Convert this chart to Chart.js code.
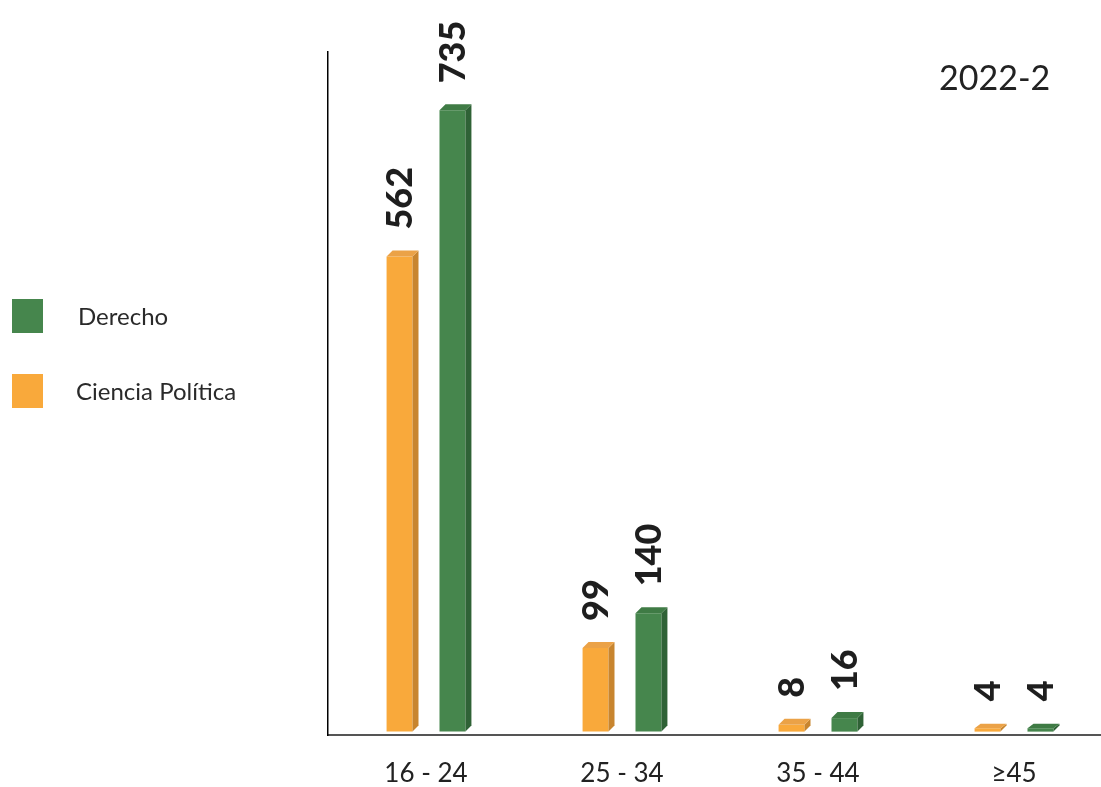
<!DOCTYPE html>
<html>
<head>
<meta charset="utf-8">
<script src="https://cdn.jsdelivr.net/npm/chart.js@4"></script>
<style>
  html, body { margin: 0; padding: 0; background: #fff; overflow: hidden; }
  #wrap { position: relative; width: 1115px; height: 787px; }
  .legend { position: absolute; left: 12px; font-family: Lato, sans-serif; font-size: 24px; color: #2a2a2a; }
  .legend span.box { position: absolute; left: 0; width: 31px; height: 34px; }
  .legend span.txt { position: absolute; white-space: nowrap; }
  #period { position: absolute; left: 939px; top: 56px; font-family: Lato, sans-serif; font-size: 34px; color: #222; }
</style>
</head>
<body>
<div id="wrap">
  <canvas id="myChart" width="1115" height="787"></canvas>
  <div class="legend" style="top:299px"><span class="box" style="background:#46864d"></span><span class="txt" style="left:66px;top:2px">Derecho</span></div>
  <div class="legend" style="top:374px"><span class="box" style="background:#f9a93b"></span><span class="txt" style="left:64px;top:2px">Ciencia Política</span></div>
  <div id="period">2022-2</div>
</div>
<script>
const categories = ["16 - 24", "25 - 34", "35 - 44", "≥45"];
const cienciaPolitica = [562, 99, 8, 4];
const derecho = [735, 140, 16, 4];

const depth = 6;

// side and top faces so the bars look like blocks
const boxFaces = {
  id: "boxFaces",
  afterDatasetsDraw(chart) {
    const ctx = chart.ctx;
    chart.data.datasets.forEach((ds, i) => {
      chart.getDatasetMeta(i).data.forEach((bar) => {
        const r = bar.x + bar.width / 2;
        const l = bar.x - bar.width / 2;
        const top = bar.y;
        const base = bar.base;
        const d = Math.min(depth, base - top + 1);
        ctx.save();
        ctx.fillStyle = ds.sideColor;
        ctx.beginPath();
        ctx.moveTo(r, top);
        ctx.lineTo(r + depth, top - d);
        ctx.lineTo(r + depth, base - depth);
        ctx.lineTo(r, base);
        ctx.closePath();
        ctx.fill();
        ctx.fillStyle = ds.topColor;
        ctx.beginPath();
        ctx.moveTo(l, top);
        ctx.lineTo(l + depth, top - d);
        ctx.lineTo(r + depth, top - d);
        ctx.lineTo(r, top);
        ctx.closePath();
        ctx.fill();
        ctx.restore();
      });
    });
  }
};

const valueLabels = {
  id: "valueLabels",
  afterDatasetsDraw(chart) {
    const ctx = chart.ctx;
    chart.data.datasets.forEach((ds, i) => {
      chart.getDatasetMeta(i).data.forEach((bar, j) => {
        ctx.save();
        ctx.translate(bar.x + 1, bar.y - depth - 21);
        ctx.rotate(-Math.PI / 2);
        ctx.font = "900 36px Lato";
        ctx.fillStyle = "#1e1e1e";
        ctx.textAlign = "left";
        ctx.textBaseline = "middle";
        ctx.fillText(ds.data[j], 0, 0);
        ctx.restore();
      });
    });
  }
};

new Chart(document.getElementById("myChart").getContext("2d"), {
  type: "bar",
  data: {
    labels: categories,
    datasets: [
      {
        label: "Ciencia Política",
        data: cienciaPolitica,
        backgroundColor: "#f9a93b",
        sideColor: "#c8852f",
        topColor: "#eba247",
      },
      {
        label: "Derecho",
        data: derecho,
        backgroundColor: "#46864d",
        sideColor: "#2f6236",
        topColor: "#3f7b45",
      },
    ],
  },
  plugins: [boxFaces, valueLabels],
  options: {
    responsive: false,
    animation: false,
    events: [],
    layout: { padding: { left: 328, top: 52, right: 3, bottom: 0 } },
    datasets: { bar: { categoryPercentage: 0.54, barPercentage: 0.49 } },
    plugins: { legend: { display: false }, tooltip: { enabled: false } },
    scales: {
      x: {
        grid: { display: false, drawTicks: false },
        border: { display: true, color: "#555", width: 2 },
        ticks: { font: { family: "Lato", size: 26 }, color: "#222", padding: 23, maxRotation: 0 },
        afterFit(scale) { scale.height = 52; },
      },
      y: {
        min: -4,
        max: 804,
        grid: { display: false, drawTicks: false },
        border: { display: true, color: "#000", width: 1.5 },
        ticks: { display: false },
        afterFit(scale) { scale.width = 0; },
      },
    },
  },
});
</script>
</body>
</html>
